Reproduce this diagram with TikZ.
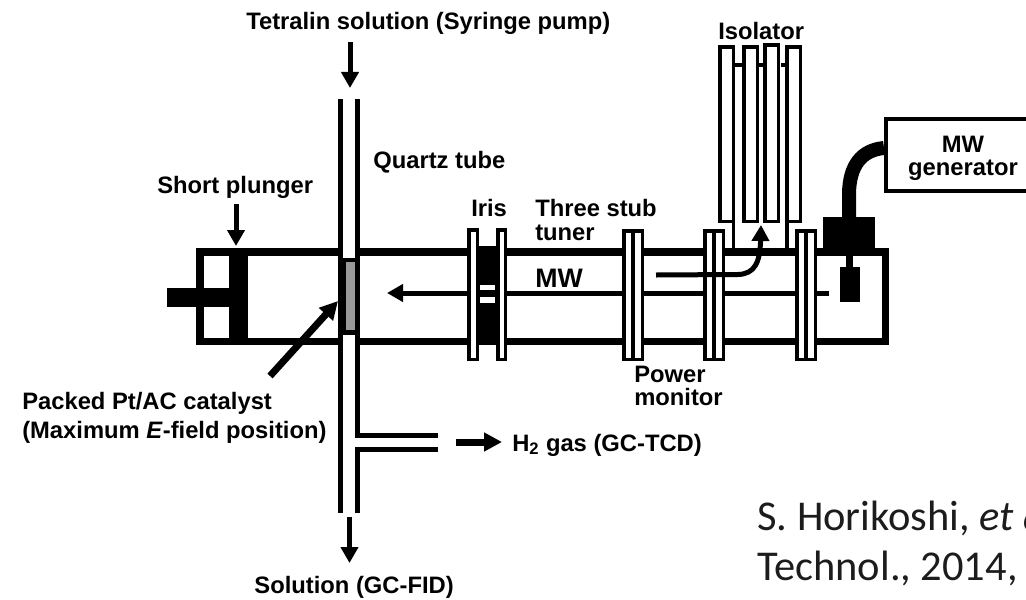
\documentclass[tikz,border=0pt]{standalone}
\usepackage{fontspec}
\setmainfont{Liberation Sans}
\newfontfamily\citefont{Carlito}
\usetikzlibrary{arrows.meta}
\definecolor{citegray}{HTML}{1C1C1C}
\tikzset{
	wall/.style = {line width = 0.1875cm},
	pipe/.style = {line width = 0.125cm},
	rim/.style = {line width = 0.0875cm},
	solid block/.style = {fill = black, draw = none},
	flange/.style = {rim, draw = black, fill = white},
	label/.style = {font = \fontsize{16.9}{16.5}\selectfont\bfseries, inner sep = 0pt, anchor = west, align = left},
	feed/.style = {line width = 0.125cm, -{Triangle[length = 0.4cm, width = 0.425cm]}},
	heavy feed/.style = {line width = 0.175cm, -{Triangle[length = 0.45cm, width = 0.45cm]}},
	cite/.style = {font = \citefont\fontsize{30.2}{35.4}\selectfont, text = citegray, inner sep = 0pt, anchor = base west}
}
\begin{document}
\begin{tikzpicture}[x = 0.025cm, y = -0.025cm]
	\useasboundingbox (0,0) rectangle (1026,599);
	\clip (0,0) rectangle (1026,599);
	
	\draw[wall] (199.75,251.75) rectangle (885.25,341.25);
	\fill[solid block] (229,248) rectangle (248,345);
	\fill[solid block] (167,288) rectangle (229,307);
	
	\fill[white] (343,240) rectangle (354.5,350);
	\draw[pipe] (340.5,99) -- (340.5,513);
	\draw[pipe] (357,99) -- (357,437);
	\draw[pipe] (357,447) -- (357,513);
	\draw[pipe] (355,435) -- (438,435);
	\draw[pipe] (355,449) -- (438,449);
	\fill[solid block] (338,258) rectangle (360,335);
	\fill[gray!80!white] (346,262) rectangle (355,330);
	
	\coordinate (mwstart) at (829,293);
	\coordinate (mwend) at (387,293);
	\draw[feed] (mwstart) -- (mwend);
	
	\fill[solid block] (479,246) rectangle (496,345);
	\fill[white] (480,285) rectangle (495,290);
	\fill[white] (480,297) rectangle (495,303);
	\draw[flange] (469,230) rectangle (477.5,359.5);
	\draw[flange] (498,230) rectangle (505.5,359.5);
	
	\foreach \x in {622,703,795} {
		\begin{scope}[shift={(\x,0)}]
			\draw[flange] (1.75,231) rectangle (20.25,359.5);
			\draw[rim] (11,231) -- (11,359.5);
		\end{scope}
	}
	
	\foreach \x/\y in {718/45,742/45,763/43,785/45} {
		\draw[rim] (\x+1.75,\y+1.75) rectangle (\x+15.25,221.5);
	}
	\draw[rim] (735,65) -- (742,65);
	\draw[rim] (759,65) -- (763,65);
	\draw[rim] (781,65) -- (785,65);
	\draw[rim] (733.25,221.5) -- (733.25,248);
	\draw[rim] (786.75,221.5) -- (786.75,248);
	
	\coordinate (leakstart) at (656,275);
	\coordinate (leakend) at (761,225);
	\draw[feed] (leakstart) -- (738,274.5) .. controls (755,274) and (760,262) .. (leakend);
	
	\draw[line width = 0.35cm] (884,148) .. controls (862,150) and (849,165) .. (849,195) -- (849,220);
	\fill[solid block] (823,217) rectangle (875,248);
	\fill[solid block] (846,256) rectangle (853,267);
	\fill[solid block] (840,267) rectangle (860,302);
	\draw[rim] (1040,119) -- (886,119) -- (886,191) -- (1040,191);
	
	\coordinate (tetralinend) at (350,88);
	\coordinate (tetralinstart) at (350,42);
	\draw[feed] (tetralinstart) -- (tetralinend);
	\coordinate (plungerstart) at (236,204);
	\coordinate (plungerend) at (236,246);
	\draw[feed] (plungerstart) -- (plungerend);
	\coordinate (catalyststart) at (270,376);
	\coordinate (catalystend) at (338,301);
	\draw[heavy feed] (catalyststart) -- (catalystend);
	\coordinate (hydrogenstart) at (456,442);
	\coordinate (hydrogenend) at (502,442);
	\draw[heavy feed] (hydrogenstart) -- (hydrogenend);
	\coordinate (solutionstart) at (349.5,517);
	\coordinate (solutionend) at (349.5,563);
	\draw[feed] (solutionstart) -- (solutionend);
	
	\node[label] (tetralin) at (246,23) {Tetralin solution (Syringe pump)};
	\node[label] (plunger) at (157,187) {Short plunger};
	\node[label] (quartz) at (373,162) {Quartz tube};
	\node[label] (iris) at (471,208) {Iris};
	\node[label] (stub) at (535,220) {Three stub\\tuner};
	\node[label, font = \fontsize{19}{19}\selectfont\bfseries] (mw) at (535,278) {MW};
	\node[label] (isolator) at (718,31) {Isolator};
	\node[label, anchor = center, align = center] (generator) at (963,158.5) {MW\\generator};
	\node[label] (monitor) at (634,386) {Power\\monitor};
	\node[label] (catalyst) at (22,417.5) {Packed Pt/AC catalyst\\[4pt](Maximum \textit{E}-field position)};
	\node[label] (hydrogen) at (512,445) {H\textsubscript{2} gas (GC-TCD)};
	\node[label, anchor = east] (solution) at (454,587.5) {Solution (GC-FID)};
	
	\node[cite] (citeone) at (757,530) {S. Horikoshi, \textit{et a}};
	\node[cite] (citetwo) at (757,580) {Technol., 2014,};
\end{tikzpicture}
\end{document}
